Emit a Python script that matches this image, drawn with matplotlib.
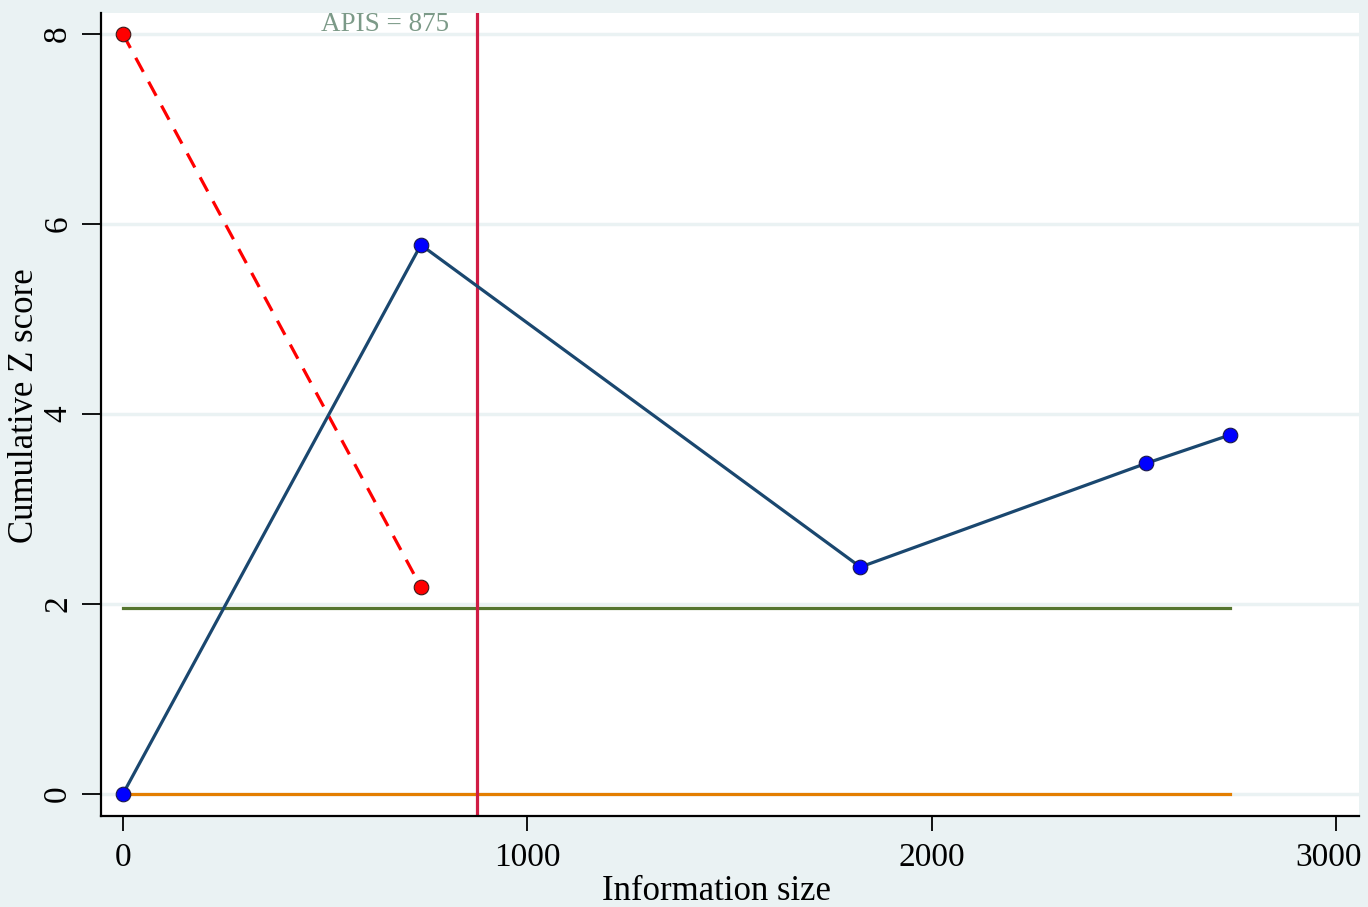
import matplotlib.pyplot as plt
import matplotlib.transforms as mtransforms
import numpy as np

# Cumulative Z curve
info_size = [0, 737, 1824, 2530, 2738]
z_cum = [0, 5.78, 2.39, 3.48, 3.78]

# Boundary points (dashed)
bound_x = [0, 737]
bound_z = [8.0, 2.18]

# Reference lines
z_crit = 1.96
z_zero = 0
ref_end = 2738
apis = 875

bg = '#EAF2F3'
plt.rcParams['font.family'] = ['Liberation Serif', 'DejaVu Serif']

fig = plt.figure(figsize=(13.68, 9.07), dpi=100, facecolor=bg)
ax = fig.add_axes([101 / 1368, 1 - 816 / 907, (1359 - 101) / 1368, (816 - 13) / 907])
ax.set_facecolor('white')

ax.set_xlim(-54, 3057)
ax.set_ylim(-0.23, 8.22)

for yv in [0, 2, 4, 6, 8]:
    ax.axhline(yv, color=bg, lw=2.5, zorder=0)

ax.plot([0, ref_end], [z_crit, z_crit], color='#55752F', lw=2.3, zorder=2)
ax.plot([0, ref_end], [z_zero, z_zero], color='#E37E00', lw=2.3, zorder=2)
ax.axvline(apis, color='#D01C44', lw=2.3, zorder=2)

ax.plot(bound_x, bound_z, color='#FF0000', lw=2.3, ls=(0, (5, 3.5)), zorder=3)
ax.plot(bound_x, bound_z, ls='none', marker='o', ms=10.5, mfc='#FF0000',
        mec='#3A1A1A', mew=0.8, zorder=4)

ax.plot(info_size, z_cum, color='#1A476F', lw=2.3, zorder=3)
ax.plot(info_size, z_cum, ls='none', marker='o', ms=10.5, mfc='#0000FF',
        mec='#1A1A4A', mew=0.8, zorder=4)

ax.text(648, 8.1, 'APIS = %d' % apis, color='#7C9A88', fontsize=19.5,
        ha='center', va='center')

ax.spines['top'].set_visible(False)
ax.spines['right'].set_visible(False)
ax.spines['left'].set_linewidth(1.6)
ax.spines['bottom'].set_linewidth(1.6)

ax.set_xticks([0, 1000, 2000, 3000])
ax.set_yticks([0, 2, 4, 6, 8])
ax.tick_params(axis='x', length=11, width=1.3, labelsize=24, pad=8)
ax.tick_params(axis='y', length=14, width=1.3, labelsize=24, pad=6)
for lab in ax.get_yticklabels():
    lab.set_rotation(90)
    lab.set_va('center')

# keep the last x label inside the figure
last = ax.get_xticklabels()[-1]
last.set_transform(last.get_transform() +
                   mtransforms.ScaledTranslation(-7 / 100, 0, fig.dpi_scale_trans))

ax.set_xlabel('Information size', fontsize=25)
ax.set_ylabel('Cumulative Z score', fontsize=25)
ax.xaxis.set_label_coords((716 - 101) / 1258, -(891 - 816) / 803)
ax.yaxis.set_label_coords(-(101 - 25) / 1258, (816 - 406) / 803)
ax.xaxis.label.set_va('center')
ax.yaxis.label.set_va('center')

fig.savefig('out.png', dpi=100, facecolor=bg)
